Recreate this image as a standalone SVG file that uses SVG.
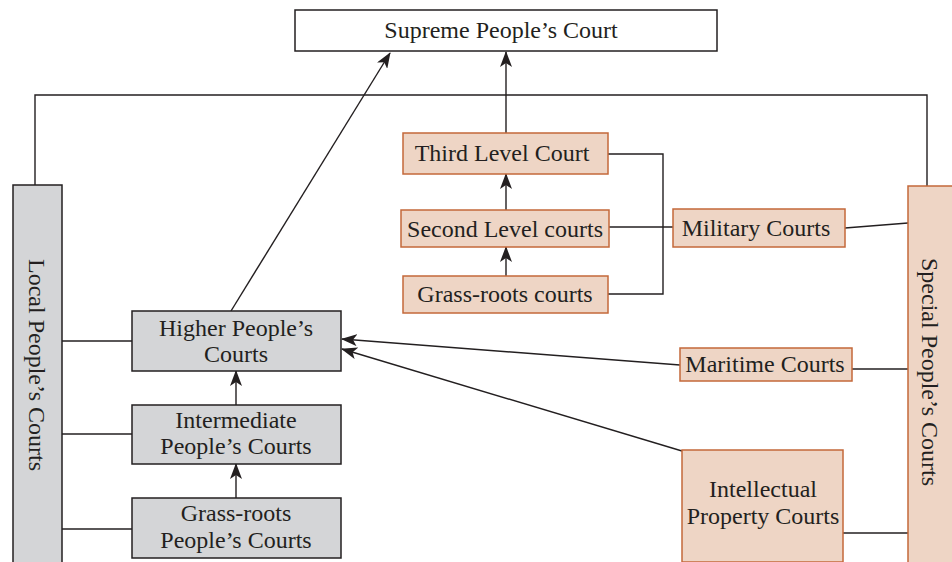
<svg xmlns="http://www.w3.org/2000/svg" width="952" height="562" viewBox="0 0 952 562">
<style>
text{font-family:"Liberation Serif","Times New Roman",serif;font-size:24px;fill:#231f20;text-anchor:middle;dominant-baseline:central}
.w{fill:#fff;stroke:#231f20;stroke-width:1.5}
.g{fill:#d4d5d7;stroke:#231f20;stroke-width:1.5}
.p{fill:#eed5c5;stroke:#c4683a;stroke-width:1.5}
.c{fill:none;stroke:#231f20;stroke-width:1.4}
.a{marker-end:url(#ah)}
</style>
<defs>
<marker id="ah" markerUnits="userSpaceOnUse" markerWidth="16" markerHeight="12" viewBox="0 0 16 12" refX="15" refY="6" orient="auto">
<path d="M0,0 L16,6 L0,12 L4,6 z" fill="#231f20"/>
</marker>
</defs>
<g id="connectors">
<polyline class="c" points="35,185 35,95 927,95 927,186"/>
<line class="c a" x1="231" y1="311" x2="390" y2="53"/>
<line class="c a" x1="506" y1="133" x2="506" y2="52"/>
<line class="c a" x1="506" y1="210" x2="506" y2="174"/>
<line class="c a" x1="506" y1="276" x2="506" y2="247"/>
<polyline class="c" points="607,154 663,154 663,294 607,294"/>
<line class="c" x1="609" y1="227" x2="673" y2="227"/>
<line class="c" x1="845" y1="228" x2="908" y2="223"/>
<line class="c" x1="852" y1="369" x2="908" y2="369"/>
<line class="c" x1="843" y1="533" x2="908" y2="533"/>
<line class="c a" x1="680" y1="365" x2="342" y2="339"/>
<line class="c a" x1="682" y1="451" x2="342" y2="349"/>
<line class="c a" x1="236" y1="405" x2="236" y2="371"/>
<line class="c a" x1="236" y1="498" x2="236" y2="464"/>
<line class="c" x1="62" y1="341" x2="132" y2="341"/>
<line class="c" x1="62" y1="434" x2="132" y2="434"/>
<line class="c" x1="62" y1="529" x2="132" y2="529"/>
</g>
<g id="supreme"><rect class="w" x="295" y="10" width="422" height="41"/><text x="501" y="30">Supreme People’s Court</text></g>
<g id="local"><rect class="g" x="13" y="185" width="49" height="380"/><text transform="translate(37,365) rotate(90)">Local People’s Courts</text></g>
<g id="higher"><rect class="g" x="132" y="311" width="209" height="60"/><text x="236" y="328">Higher People’s</text><text x="236" y="354">Courts</text></g>
<g id="intermediate"><rect class="g" x="132" y="405" width="209" height="59"/><text x="236" y="420">Intermediate</text><text x="236" y="446">People’s Courts</text></g>
<g id="grassroots-people"><rect class="g" x="132" y="498" width="209" height="60"/><text x="236" y="513">Grass-roots</text><text x="236" y="540">People’s Courts</text></g>
<g id="third"><rect class="p" x="403" y="133" width="205" height="41"/><text x="502" y="153">Third Level Court</text></g>
<g id="second"><rect class="p" x="401" y="210" width="208" height="37"/><text x="505" y="229">Second Level courts</text></g>
<g id="grassroots"><rect class="p" x="403" y="276" width="205" height="37"/><text x="505" y="294">Grass-roots courts</text></g>
<g id="military"><rect class="p" x="673" y="209" width="172" height="38"/><text x="756" y="228">Military Courts</text></g>
<g id="maritime"><rect class="p" x="680" y="348" width="172" height="33"/><text x="765" y="364">Maritime Courts</text></g>
<g id="ip"><rect class="p" x="682" y="450" width="161" height="112"/><text x="763" y="489">Intellectual</text><text x="763" y="516">Property Courts</text></g>
<g id="special"><rect class="p" x="908" y="186" width="50" height="380"/><text transform="translate(930,372) rotate(90)">Special People’s Courts</text></g>
</svg>
